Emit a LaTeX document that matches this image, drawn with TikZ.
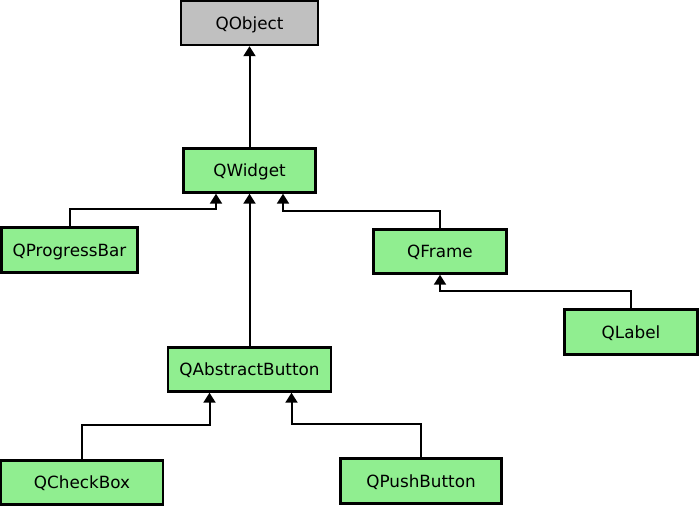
\documentclass[tikz,border=0pt]{standalone}
\usepackage{fontspec}
\setmainfont{DejaVu Sans}
\usetikzlibrary{arrows.meta}
\definecolor{boxgreen}{HTML}{90EE90}
\definecolor{boxgray}{HTML}{C0C0C0}
\begin{document}
\begin{tikzpicture}[x=1pt,y=-1pt,
  cls/.style={draw=black, line width=2.4pt, fill=boxgreen, inner sep=0pt,
    text height=12pt, text depth=0pt,
    font=\fontsize{16.8}{19}\selectfont},
  conn/.style={draw=black, line width=2pt, -{Triangle[length=10pt,width=12pt]}}]
\useasboundingbox (0,0) rectangle (699,506);
\node[cls, fill=boxgray, minimum width=137pt, minimum height=44pt] (obj) at (249.5,23) {QObject};
\node[cls, minimum width=132pt, minimum height=44pt] (wid) at (249.5,170.5) {QWidget};
\node[cls, minimum width=136pt, minimum height=45pt] (pb) at (69.5,250) {QProgressBar};
\node[cls, minimum width=133pt, minimum height=44pt] (fr) at (440,251.5) {QFrame};
\node[cls, minimum width=133pt, minimum height=45pt] (lab) at (631,332) {QLabel};
\node[cls, minimum width=163pt, minimum height=44pt] (ab) at (249.5,369.5) {QAbstractButton};
\node[cls, minimum width=162pt, minimum height=44pt] (cb) at (82,482.5) {QCheckBox};
\node[cls, minimum width=161pt, minimum height=45pt] (pu) at (421,481) {QPushButton};
\draw[conn] (wid.north) -- (obj.south);
\draw[conn] (pb.north) -- ++(0,-17) -| ([xshift=-33.5pt]wid.south);
\draw[conn] (ab.north) -- (wid.south);
\draw[conn] (fr.north) -- ++(0,-17) -| ([xshift=33.5pt]wid.south);
\draw[conn] (lab.north) -- ++(0,-17) -| (fr.south);
\draw[conn] (cb.north) -- ++(0,-34) -| ([xshift=-40pt]ab.south);
\draw[conn] (pu.north) -- ++(0,-33) -| ([xshift=42pt]ab.south);
\end{tikzpicture}
\end{document}
